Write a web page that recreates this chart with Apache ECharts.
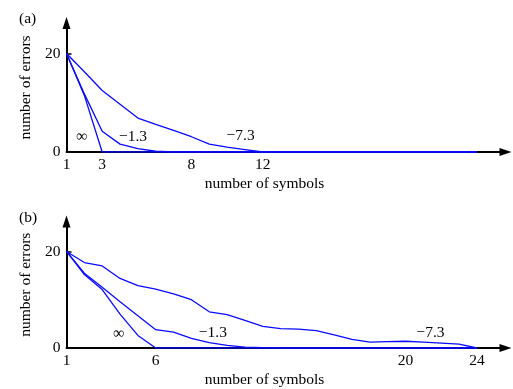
<!DOCTYPE html>
<html>
<head>
<meta charset="utf-8">
<script src="https://cdn.jsdelivr.net/npm/echarts@6/dist/echarts.min.js"></script>
<style>
  html, body { margin: 0; padding: 0; background: #fff; }
  #chart { width: 513px; height: 389px; }
</style>
</head>
<body>
<div id="chart"></div>
<script>
// number of symbols
const symbols = [1, 2, 3, 4, 5, 6, 7, 8, 9, 10, 11, 12, 13, 14, 15, 16, 17, 18, 19, 20, 21, 22, 23, 24];

// panel (a)
const aInf = [20, 11.5, 0, 0, 0, 0, 0, 0, 0, 0, 0, 0, 0, 0, 0, 0, 0, 0, 0, 0, 0, 0, 0, 0];
const aM13 = [20, 11.8, 4.2, 1.6, 0.7, 0.15, 0, 0, 0, 0, 0, 0, 0, 0, 0, 0, 0, 0, 0, 0, 0, 0, 0, 0];
const aM73 = [20, 16.3, 12.5, 9.7, 6.9, 5.6, 4.4, 3.1, 1.6, 1.0, 0.5, 0, 0, 0, 0, 0, 0, 0, 0, 0, 0, 0, 0, 0];

// panel (b)
const bInf = [20, 15.2, 12.1, 7.0, 2.6, 0, 0, 0, 0, 0, 0, 0, 0, 0, 0, 0, 0, 0, 0, 0, 0, 0, 0, 0];
const bM13 = [20, 15.5, 12.6, 9.6, 6.7, 3.8, 3.3, 2.0, 1.1, 0.55, 0.2, 0.05, 0, 0, 0, 0, 0, 0, 0, 0, 0, 0, 0, 0];
const bM73 = [20, 17.7, 17.0, 14.4, 12.9, 12.2, 11.2, 10.0, 7.5, 6.9, 5.7, 4.5, 4.0, 3.9, 3.6, 2.7, 1.8, 1.2, 1.3, 1.4, 1.2, 1.0, 0.8, 0];

// tick labels
const aXTicks = [1, 3, 8, 12];
const bXTicks = [1, 6, 20, 24];
const yTicks = [0, 20];

// curve annotations: [label, x, y]
const aNotes = [['∞', 1.85, 3.1], ['−1.3', 4.73, 3.1], ['−7.3', 10.76, 3.2]];
const bNotes = [['∞', 3.93, 2.9], ['−1.3', 9.2, 3.1], ['−7.3', 21.4, 3.2]];

const FONT = "'Liberation Serif', 'Times New Roman', serif";
const BLUE = '#0a0aff';

const chart = echarts.init(document.getElementById('chart'));

function xAxis(idx, ticks) {
  return {
    type: 'value', gridIndex: idx, min: 1, max: 25.6,
    name: 'number of symbols', nameLocation: 'middle', nameGap: 24,
    nameTextStyle: { fontFamily: FONT, fontSize: 15.5, color: '#000', padding: [0, 43, 0, 0] },
    axisLine: { show: true, symbol: ['none', 'triangle'], symbolSize: [8, 12], lineStyle: { color: '#000', width: 2 } },
    axisTick: { show: false },
    axisLabel: { customValues: ticks, margin: 5, fontFamily: FONT, fontSize: 15.5, color: '#000' },
    splitLine: { show: false }
  };
}

function yAxis(idx) {
  return {
    type: 'value', gridIndex: idx, min: 0, max: 26.2,
    name: 'number of errors', nameLocation: 'middle', nameGap: 32,
    nameTextStyle: { fontFamily: FONT, fontSize: 15.5, color: '#000' },
    axisLine: { show: true, symbol: ['none', 'triangle'], symbolSize: [8, 12], lineStyle: { color: '#000', width: 2 } },
    axisTick: { show: true, inside: true, length: 5, customValues: [20], lineStyle: { color: '#000', width: 1.5 } },
    axisLabel: { customValues: yTicks, margin: 6, fontFamily: FONT, fontSize: 15.5, color: '#000' },
    splitLine: { show: false }
  };
}

function curve(idx, values, notes) {
  const s = {
    type: 'line', xAxisIndex: idx, yAxisIndex: idx,
    data: symbols.map((x, i) => [x, values[i]]),
    showSymbol: false, symbol: 'none',
    lineStyle: { color: BLUE, width: 1.3 },
    itemStyle: { color: BLUE },
    silent: true, animation: false
  };
  if (notes) {
    s.markPoint = {
      symbol: 'circle', symbolSize: 0, silent: true, animation: false,
      label: { show: true, position: 'inside', formatter: '{b}', fontFamily: FONT, fontSize: 15.5, color: '#000' },
      data: notes.map(n => ({ name: n[0], coord: [n[1], n[2]] }))
    };
  }
  return s;
}

chart.setOption({
  backgroundColor: '#fff',
  animation: false,
  title: [
    { text: '(a)', left: 14, top: 6, textStyle: { fontFamily: FONT, fontSize: 15.5, fontWeight: 'normal', color: '#000' } },
    { text: '(b)', left: 14, top: 205, textStyle: { fontFamily: FONT, fontSize: 15.5, fontWeight: 'normal', color: '#000' } }
  ],
  grid: [
    { left: 66.5, right: 7.5, top: 23, height: 129 },
    { left: 66.5, right: 7.5, top: 221.5, height: 128.5 }
  ],
  xAxis: [xAxis(0, aXTicks), xAxis(1, bXTicks)],
  yAxis: [yAxis(0), yAxis(1)],
  series: [
    curve(0, aInf, aNotes), curve(0, aM13), curve(0, aM73),
    curve(1, bInf, bNotes), curve(1, bM13), curve(1, bM73)
  ]
});
</script>
</body>
</html>
